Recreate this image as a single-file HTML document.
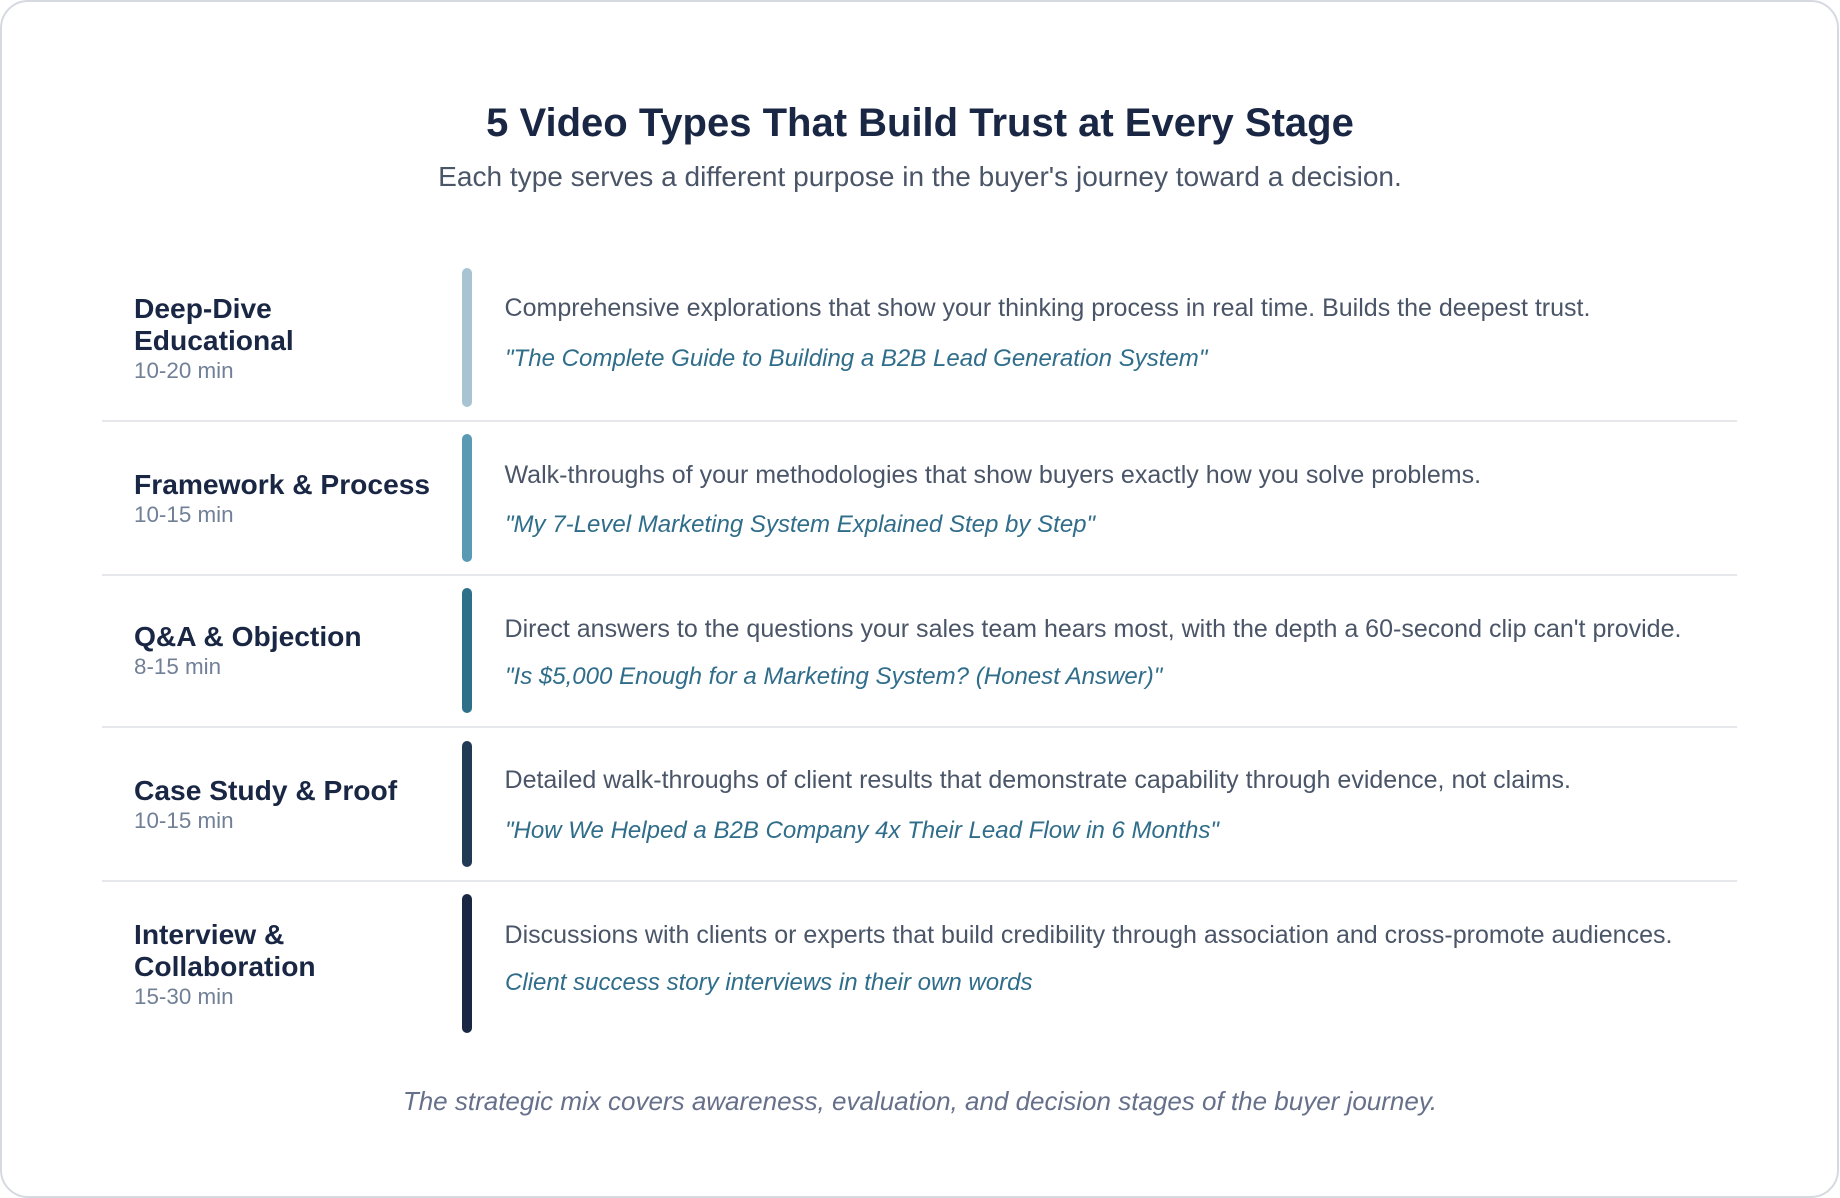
<!DOCTYPE html>
<html>
<head>
<meta charset="utf-8">
<style>
  html, body { margin: 0; padding: 0; }
  body {
    width: 1840px; height: 1198px; position: relative; overflow: hidden;
    background: #ffffff;
    font-family: "Liberation Sans", Arial, sans-serif;
  }
  .card {
    position: absolute; left: 0; top: 0; width: 1839px; height: 1198px;
    box-sizing: border-box; border: 2px solid #d6dae0; border-radius: 28px;
    background: #ffffff;
  }
  .t { position: absolute; white-space: nowrap; line-height: 1; }
  .title { left: 0; width: 1840px; text-align: center; font-size: 40px; font-weight: bold; color: #1a2744; top: 103.3px; }
  .sub { left: 0; width: 1840px; text-align: center; font-size: 28.05px; color: #4a5568; top: 163px; }
  .name { left: 134px; font-size: 28.2px; font-weight: bold; color: #1a2744; }
  .min { left: 134px; font-size: 22.4px; color: #718096; }
  .desc { left: 504.5px; font-size: 25.02px; color: #4a5568; }
  .quote { left: 505px; font-size: 24.04px; font-style: italic; color: #2f6d8a; }
  .foot { left: 0; width: 1840px; text-align: center; font-size: 26px; font-style: italic; color: #66708a; top: 1088.2px; }
  .bar { position: absolute; left: 462.3px; width: 9.4px; border-radius: 5px; }
  .div { position: absolute; left: 102px; width: 1635px; height: 2px; background: #e5e7eb; }
</style>
</head>
<body>
<div class="card"></div>

<div class="t title">5 Video Types That Build Trust at Every Stage</div>
<div class="t sub">Each type serves a different purpose in the buyer's journey toward a decision.</div>

<!-- Row 1 -->
<div class="bar" style="top:268.3px;height:139px;background:#a8c4d3;"></div>
<div class="t name" style="top:294.2px;">Deep-Dive</div>
<div class="t name" style="top:325.9px;">Educational</div>
<div class="t min" style="top:360px;">10-20 min</div>
<div class="t desc" style="top:295.8px;">Comprehensive explorations that show your thinking process in real time. Builds the deepest trust.</div>
<div class="t quote" style="top:346.8px;">"The Complete Guide to Building a B2B Lead Generation System"</div>
<div class="div" style="top:419.7px;"></div>

<!-- Row 2 -->
<div class="bar" style="top:434px;height:127.7px;background:#5b9ab5;"></div>
<div class="t name" style="top:470.1px;">Framework &amp; Process</div>
<div class="t min" style="top:504px;">10-15 min</div>
<div class="t desc" style="top:463px;">Walk-throughs of your methodologies that show buyers exactly how you solve problems.</div>
<div class="t quote" style="top:512.9px;">"My 7-Level Marketing System Explained Step by Step"</div>
<div class="div" style="top:573.7px;"></div>

<!-- Row 3 -->
<div class="bar" style="top:588.3px;height:125px;background:#2e6f8a;"></div>
<div class="t name" style="top:621.8px;">Q&amp;A &amp; Objection</div>
<div class="t min" style="top:656.2px;">8-15 min</div>
<div class="t desc" style="top:616.6px;">Direct answers to the questions your sales team hears most, with the depth a 60-second clip can't provide.</div>
<div class="t quote" style="top:665.4px;">"Is $5,000 Enough for a Marketing System? (Honest Answer)"</div>
<div class="div" style="top:725.7px;"></div>

<!-- Row 4 -->
<div class="bar" style="top:740.7px;height:126.3px;background:#213a56;"></div>
<div class="t name" style="top:775.8px;">Case Study &amp; Proof</div>
<div class="t min" style="top:809.6px;">10-15 min</div>
<div class="t desc" style="top:768.3px;">Detailed walk-throughs of client results that demonstrate capability through evidence, not claims.</div>
<div class="t quote" style="top:819.4px;">"How We Helped a B2B Company 4x Their Lead Flow in 6 Months"</div>
<div class="div" style="top:880px;"></div>

<!-- Row 5 -->
<div class="bar" style="top:894.3px;height:139px;background:#1a2744;"></div>
<div class="t name" style="top:920px;">Interview &amp;</div>
<div class="t name" style="top:952.1px;">Collaboration</div>
<div class="t min" style="top:986px;">15-30 min</div>
<div class="t desc" style="top:922.5px;">Discussions with clients or experts that build credibility through association and cross-promote audiences.</div>
<div class="t quote" style="top:971.1px;">Client success story interviews in their own words</div>

<div class="t foot">The strategic mix covers awareness, evaluation, and decision stages of the buyer journey.</div>
</body>
</html>
